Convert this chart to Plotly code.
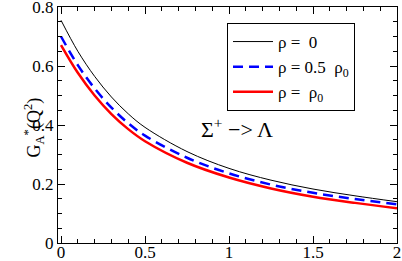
import plotly.graph_objects as go

q2 = [0.0, 0.1, 0.2, 0.3, 0.4, 0.5, 0.75, 1.0, 1.25, 1.5, 1.75, 2.0]
g_rho0 = [0.755, 0.650, 0.565, 0.495, 0.438, 0.392, 0.310, 0.253, 0.213, 0.183, 0.160, 0.140]
g_rho_half = [0.700, 0.603, 0.524, 0.459, 0.406, 0.364, 0.289, 0.236, 0.198, 0.170, 0.149, 0.131]
g_rho_full = [0.671, 0.577, 0.500, 0.437, 0.386, 0.345, 0.272, 0.222, 0.185, 0.157, 0.136, 0.118]

names = ["ρ =  0", "ρ = 0.5  ρ<sub>0</sub>", "ρ =  ρ<sub>0</sub>"]

FONT = "Liberation Serif, Times New Roman, DejaVu Serif, serif"

fig = go.Figure()
fig.add_trace(go.Scatter(x=q2, y=g_rho0, mode="lines", name=names[0],
                         line=dict(color="black", width=1, shape="spline")))
fig.add_trace(go.Scatter(x=q2, y=g_rho_half, mode="lines", name=names[1],
                         line=dict(color="#0000ff", width=2.5, dash="10px,6px", shape="spline")))
fig.add_trace(go.Scatter(x=q2, y=g_rho_full, mode="lines", name=names[2],
                         line=dict(color="#ff0000", width=2.5, shape="spline")))

axis_common = dict(
    showgrid=False, zeroline=False, showline=True, linecolor="black", linewidth=1,
    mirror="ticks", ticks="inside", ticklen=7, tickwidth=1, tickcolor="black",
    tickfont=dict(family=FONT, size=17, color="black"),
    automargin=False, ticklabeloverflow="allow",
)

PL, PR, PT, PB = 58, 397, 7, 243
pw, ph = PR - PL, PB - PT

fig.update_layout(
    width=402, height=261,
    font=dict(family=FONT, color="black"),
    margin=dict(l=PL, r=402 - PR, t=PT, b=261 - PB, autoexpand=False),
    paper_bgcolor="white", plot_bgcolor="white",
    showlegend=True,
    legend=dict(x=(227 - PL) / pw, y=(PB - 23) / ph, xanchor="left", yanchor="top",
                bordercolor="black", borderwidth=1, bgcolor="white",
                font=dict(family=FONT, size=17, color="black"),
                tracegroupgap=0, itemwidth=40),
    xaxis=dict(range=[-0.018, 2.0], tickvals=[0, 0.5, 1, 1.5, 2], ticktext=["0", "0.5", "1", "1.5", "2"],
               minor=dict(dtick=0.1, ticks="inside", ticklen=4, tickcolor="black", showgrid=False),
               ticklabelstandoff=-6, **axis_common),
    yaxis=dict(range=[0, 0.8], tickvals=[0, 0.2, 0.4, 0.6, 0.8], ticktext=["0", "0.2", "0.4", "0.6", "0.8"],
               minor=dict(dtick=0.05, ticks="inside", ticklen=4, tickcolor="black", showgrid=False),
               **axis_common),
    annotations=[
        dict(text="Σ<sup>+</sup> −> Λ", x=1.05, y=0.39, xref="x", yref="y", showarrow=False,
             font=dict(family=FONT, size=22, color="black")),
        dict(text="G<sub>A</sub><sup>*</sup>(Q<sup>2</sup>)", x=-(PL - 20) / pw, y=(PB - 128) / ph,
             xref="paper", yref="paper", showarrow=False, textangle=-90,
             font=dict(family=FONT, size=18, color="black")),
    ],
)

fig.write_html("out.html", config={"displayModeBar": False},
               post_script="document.body.style.margin='0';document.body.style.padding='0';")
